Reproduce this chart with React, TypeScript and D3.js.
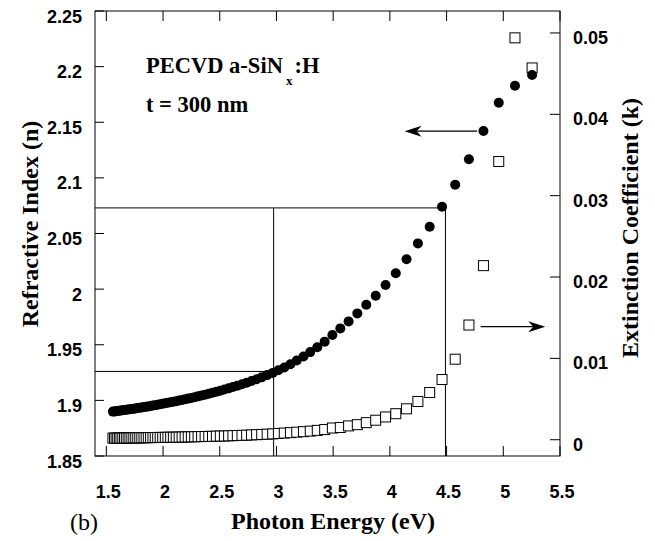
import React from 'react';
import * as d3 from 'd3';

// photon energy (eV) of every measured point, low to high
const photonEnergy = [
  1.558, 1.572, 1.586, 1.600, 1.615, 1.629, 1.645, 1.660, 1.676, 1.692, 1.708, 1.725, 1.742, 1.759, 1.777, 1.795,
  1.813, 1.832, 1.851, 1.870, 1.890, 1.911, 1.931, 1.953, 1.975, 1.997, 2.020, 2.043, 2.067, 2.091, 2.116, 2.142,
  2.168, 2.195, 2.222, 2.250, 2.279, 2.309, 2.340, 2.371, 2.403, 2.436, 2.470, 2.505, 2.541, 2.578, 2.616, 2.655,
  2.696, 2.737, 2.780, 2.825, 2.870, 2.918, 2.967, 3.017, 3.069, 3.123, 3.179, 3.238, 3.298, 3.360, 3.425,
  3.493, 3.563, 3.636, 3.713, 3.792, 3.875, 3.962, 4.052, 4.147, 4.247, 4.351, 4.460, 4.576, 4.697, 4.825, 4.960,
  5.103, 5.254,
];

// refractive index n (left axis)
const refractiveIndex = [
  1.8899, 1.8901, 1.8903, 1.8905, 1.8907, 1.8909, 1.8911, 1.8913, 1.8915, 1.8918, 1.8920, 1.8923, 1.8925, 1.8928,
  1.8931, 1.8934, 1.8937, 1.8940, 1.8943, 1.8946, 1.8950, 1.8954, 1.8957, 1.8961, 1.8966, 1.8969, 1.8974, 1.8978,
  1.8983, 1.8988, 1.8993, 1.8999, 1.9004, 1.9010, 1.9016, 1.9022, 1.9029, 1.9036, 1.9044, 1.9051, 1.9060, 1.9068,
  1.9078, 1.9087, 1.9098, 1.9108, 1.9120, 1.9132, 1.9145, 1.9159, 1.9174, 1.9190, 1.9207, 1.9227, 1.9247, 1.9270,
  1.9296, 1.9325, 1.9358, 1.9394, 1.9434, 1.9478, 1.9528,
  1.9587, 1.9647, 1.9710, 1.9782, 1.9860, 1.9940, 2.0037, 2.0142, 2.0268, 2.0411, 2.0561, 2.0741, 2.0938, 2.1167,
  2.1421, 2.1676, 2.1828, 2.1925,
];

// extinction coefficient k (right axis)
const extinction = [
  0.0002, 0.0002, 0.0002, 0.0002, 0.0002, 0.0002, 0.00021, 0.00021, 0.00021, 0.00022, 0.00022, 0.00022, 0.00023,
  0.00023, 0.00023, 0.00024, 0.00024, 0.00025, 0.00025, 0.00026, 0.00026, 0.00027, 0.00027, 0.00028, 0.00028,
  0.00029, 0.00029, 0.0003, 0.0003, 0.00031, 0.00031, 0.00032, 0.00033, 0.00034, 0.00035, 0.00036, 0.00037, 0.00038,
  0.00039, 0.0004, 0.00041, 0.00042, 0.00044, 0.00045, 0.00046, 0.00048, 0.0005, 0.00052, 0.00054, 0.00056, 0.00059,
  0.00062, 0.00065, 0.00068, 0.00072, 0.00077, 0.00082, 0.00087, 0.00093, 0.00099, 0.00106, 0.00115, 0.00125,
  0.00144, 0.0015, 0.0017, 0.00185, 0.0021, 0.0024, 0.0028, 0.0032, 0.0038, 0.0047, 0.0058, 0.0074, 0.0099, 0.0141,
  0.0214, 0.0342, 0.0494, 0.0457,
];

const energyTicks = [1.5, 2, 2.5, 3, 3.5, 4, 4.5, 5, 5.5];
const nTicks = [1.85, 1.9, 1.95, 2, 2.05, 2.1, 2.15, 2.2, 2.25];
const kTicks = [0, 0.01, 0.02, 0.03, 0.04, 0.05];

// guide lines: [E0, n0, E1, n1]
const guides = [
  [1.4, 2.073, 4.49, 2.073],
  [4.49, 2.073, 4.49, 1.85],
  [1.4, 1.926, 2.975, 1.926],
  [2.975, 2.073, 2.975, 1.85],
];

// arrows: from energy -> to energy at a given level
const nArrow = { from: 4.77, to: 4.13, n: 2.142 };
const kArrow = { from: 4.80, to: 5.37, k: 0.0139 };

const W = 655;
const H = 541;
const m = { left: 95, right: 560, top: 11, bottom: 456 };

const SERIF = '"Liberation Serif", "Times New Roman", serif';
const SANS = '"Liberation Sans", Arial, sans-serif';

export default function App() {
  const x = d3.scaleLinear().domain([1.4, 5.5]).range([m.left, m.right]);
  const yN = d3.scaleLinear().domain([1.85, 2.25]).range([m.bottom, m.top]);
  const yK = d3.scaleLinear().domain([-0.002, 0.0527]).range([m.bottom, m.top]);

  const points = photonEnergy.map((e, i) => ({ e, n: refractiveIndex[i], k: extinction[i] }));
  const sq = 10;

  const head = (tx: number, ty: number, dir: number) => {
    const p = [
      [tx, ty],
      [tx + dir * 17, ty - 5.5],
      [tx + dir * 12, ty],
      [tx + dir * 17, ty + 5.5],
    ];
    return p.map(d => d.join(',')).join(' ');
  };

  const nay = yN(nArrow.n);
  const kay = yK(kArrow.k);

  return (
    <svg width={W} height={H} style={{ position: 'absolute', left: 0, top: 0, background: '#fff' }}>
      {/* frame */}
      <rect x={m.left} y={m.top} width={m.right - m.left} height={m.bottom - m.top} fill="none" stroke="#000" strokeWidth={1} />

      {/* ticks */}
      {energyTicks.map(t => (
        <g key={'x' + t}>
          <line x1={x(t)} x2={x(t)} y1={m.bottom} y2={m.bottom - 10} stroke="#000" />
          <line x1={x(t)} x2={x(t)} y1={m.top} y2={m.top + 10} stroke="#000" />
          <text x={x(t) + 2} y={497.5} textAnchor="middle" fontFamily={SANS} fontWeight="bold" fontSize={18}>
            {String(t)}
          </text>
        </g>
      ))}
      {nTicks.map(t => (
        <g key={'n' + t}>
          <line x1={m.left} x2={m.left + 9} y1={yN(t)} y2={yN(t)} stroke="#000" />
          <text x={82} y={yN(t) + 11.5} textAnchor="end" fontFamily={SANS} fontWeight="bold" fontSize={18}>
            {String(t)}
          </text>
        </g>
      ))}
      {kTicks.map(t => (
        <g key={'k' + t}>
          <line x1={m.right} x2={m.right - 10} y1={yK(t)} y2={yK(t)} stroke="#000" />
          <text x={573} y={yK(t) + 11} textAnchor="start" fontFamily={SANS} fontWeight="bold" fontSize={18}>
            {String(t)}
          </text>
        </g>
      ))}

      {/* guide lines */}
      {guides.map((g, i) => (
        <line key={'g' + i} x1={x(g[0])} y1={yN(g[1])} x2={x(g[2])} y2={yN(g[3])} stroke="#000" strokeWidth={1} />
      ))}

      {/* extinction coefficient: open squares */}
      {points.map((d, i) => (
        <rect key={'s' + i} x={x(d.e) - sq / 2} y={yK(d.k) - sq / 2} width={sq} height={sq}
          fill="#fff" stroke="#000" strokeWidth={1} />
      ))}

      {/* refractive index: filled circles */}
      {points.map((d, i) => (
        <circle key={'c' + i} cx={x(d.e)} cy={yN(d.n)} r={5} fill="#000" />
      ))}

      {/* arrows */}
      <line x1={x(nArrow.from)} x2={x(nArrow.to) + 12} y1={nay} y2={nay} stroke="#000" strokeWidth={1.2} />
      <polygon points={head(x(nArrow.to), nay, 1)} fill="#000" />
      <line x1={x(kArrow.from)} x2={x(kArrow.to) - 12} y1={kay} y2={kay} stroke="#000" strokeWidth={1.2} />
      <polygon points={head(x(kArrow.to), kay, -1)} fill="#000" />

      {/* annotation */}
      <text x={146} y={73} fontFamily={SERIF} fontWeight="bold" fontSize={22.5}>
        PECVD a-SiN
        <tspan dx={3} dy={12} fontSize={13}>x</tspan>
        <tspan dx={2} dy={-12}>:H</tspan>
      </text>
      <text x={146} y={111.5} fontFamily={SERIF} fontWeight="bold" fontSize={22.5}>
        t = 300 nm
      </text>

      {/* axis titles */}
      <text x={333} y={529} textAnchor="middle" fontFamily={SERIF} fontWeight="bold" fontSize={24}>
        Photon Energy (eV)
      </text>
      <text transform="translate(38,224) rotate(-90)" textAnchor="middle" fontFamily={SERIF} fontWeight="bold" fontSize={24}>
        Refractive Index (n)
      </text>
      <text transform="translate(638,228) rotate(-90)" textAnchor="middle" fontFamily={SERIF} fontWeight="bold" fontSize={24}>
        Extinction Coefficient (k)
      </text>
      <text x={70} y={530} fontFamily={SERIF} fontSize={24}>
        (b)
      </text>
    </svg>
  );
}
